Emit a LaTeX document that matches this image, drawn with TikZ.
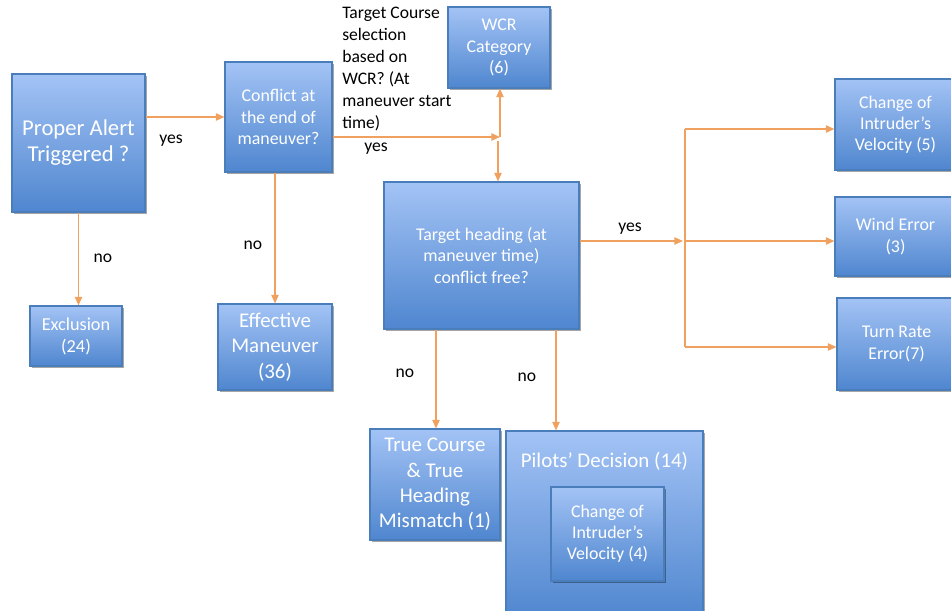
\documentclass[tikz,border=0pt]{standalone}
\usepackage{fontspec}
\setmainfont{Carlito}
\usetikzlibrary{arrows.meta,shadows,calc}
\definecolor{bxtop}{HTML}{A3C3F5}
\definecolor{bxbot}{HTML}{4F86CF}
\definecolor{bxline}{HTML}{4A7EBB}
\definecolor{org}{HTML}{F0A160}
\tikzset{
 box/.style={draw=bxline, line width=0.8pt, top color=bxtop, bottom color=bxbot, text=white, align=center, inner sep=0pt,
   drop shadow={shadow xshift=1.2pt, shadow yshift=-1.2pt, opacity=0.35, fill=black}},
 arr/.style={draw=org, line width=1.1pt, -{Triangle[length=6.5pt,width=5.5pt]}},
 ln/.style={draw=org, line width=1.1pt},
 lbl/.style={text=black, font=\fontsize{13.2}{16}\selectfont, inner sep=0pt},
 fa/.style={font=\fontsize{13.4}{15.9}\selectfont},
 fb/.style={font=\fontsize{17}{19.5}\selectfont},
 fc/.style={font=\fontsize{15.7}{19}\selectfont},
}
\begin{document}
\begin{tikzpicture}[x=0.75pt,y=-0.75pt]
\clip (0,0) rectangle (951,611);
\fill[white] (0,0) rectangle (951,611);
% boxes
\node[box,fb,minimum width=99.75pt,minimum height=103.5pt] (pa) at (78.5,143) {Proper Alert\\Triggered ?};
\node[box,fa,minimum width=80.25pt,minimum height=82.5pt] (cf) at (278.5,117) {Conflict at\\the end of\\maneuver?};
\node[box,fa,minimum width=76.5pt,minimum height=60.75pt] (wcr) at (499,47.5) {WCR\\Category\\(6)};
\node[box,fa,minimum width=146.25pt,minimum height=110.25pt] (th) at (481.5,255.5) {Target heading (at\\maneuver time)\\conflict free?};
\node[box,fa,minimum width=90.75pt,minimum height=68.25pt] (civ) at (895.5,124.5) {Change of\\Intruder’s\\Velocity (5)};
\node[box,fa,minimum width=90.75pt,minimum height=59.25pt] (we) at (895.5,236.5) {Wind Error\\(3)};
\node[box,fa,minimum width=89.25pt,minimum height=69pt] (tr) at (896.5,344) {Turn Rate\\Error(7)};
\node[box,font=\fontsize{13.7}{16.5}\selectfont,minimum width=69pt,minimum height=45pt] (ex) at (76,336) {Exclusion\\(24)};
\node[box,fc,minimum width=85.5pt,minimum height=64.5pt] (em) at (275,347) {Effective\\Maneuver\\(36)};
\node[box,fc,minimum width=97.5pt,minimum height=83.25pt] (tc) at (435,484.5) {True Course\\\& True\\Heading\\Mismatch (1)};
\node[box,minimum width=147.75pt,minimum height=141.75pt] (pd) at (604.5,525.5) {};
\node[text=white,fc,inner sep=0pt] (pdt) at (604.5,461) {Pilots’ Decision (14)};
\node[box,fa,minimum width=84.75pt,minimum height=70.5pt] (civb) at (607.5,534) {Change of\\Intruder’s\\Velocity (4)};
% label
\node[lbl,anchor=north west,align=left,font=\fontsize{13.2}{16.5}\selectfont] (tcs) at (342,7) {Target Course\\selection\\based on\\WCR? (At\\maneuver start\\time)};
% connectors
\draw[arr] (pa.east |- cf.west) -- (cf.west);
\node[lbl] (y1) at (171,141) {yes};
\draw[arr] (pa.south) -- (pa.south |- ex.north);
\node[lbl] (n1) at (103,258) {no};
\draw[arr] (cf.south -| em.north) -- (em.north);
\node[lbl] (n2) at (253,245) {no};
\coordinate (j1) at (500,137);
\draw[arr] (cf.east |- j1) -- (j1);
\draw[arr] (j1) -- (j1 |- wcr.south);
\node[lbl] (y2) at (376,149) {yes};
\coordinate (j2) at (498,141);
\draw[arr] (j2) -- (j2 |- th.north);
\coordinate (j3) at (683,241);
\draw[arr] (th.east |- j3) -- (j3);
\node[lbl] (y3) at (630,229) {yes};
\coordinate (vt) at (685,129);
\coordinate (vm) at (685,241);
\coordinate (vb) at (685,347);
\draw[ln] (vt) -- (vb);
\draw[arr] (vt) -- (vt -| civ.west);
\draw[arr] (vm) -- (vm -| we.west);
\draw[arr] (vb) -- (vb -| tr.west);
\coordinate (d1) at (436,329);
\draw[arr] (d1 |- th.south) -- (d1 |- tc.north);
\node[lbl] (n3) at (405,373) {no};
\coordinate (d2) at (556,329);
\draw[arr] (d2 |- th.south) -- (d2 |- pd.north);
\node[lbl] (n4) at (527,377) {no};
\end{tikzpicture}
\end{document}
